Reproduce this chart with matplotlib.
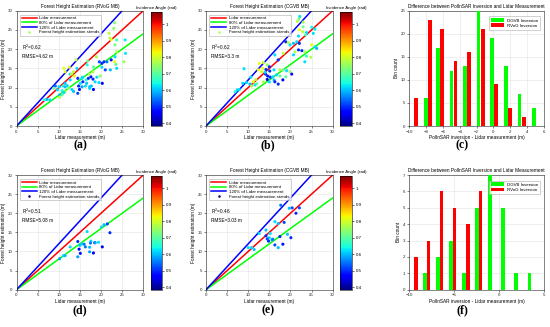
import matplotlib.pyplot as plt
import numpy as np
from matplotlib.lines import Line2D

plt.rcParams['font.family'] = ['Liberation Sans', 'DejaVu Sans']

# scatter data: lidar height, estimated height, incidence angle (rad)
a_lidar = [23.2,23.0,21.9,22.4,22.1,23.7,25.7,23.3,23.7,25.8,18.9,14.1,20.7,21.4,22.4,23.3,16.8,19.6,20.2,23.2,
           23.5,25.4,23.7,21.0,22.2,20.2,18.2,16.7,14.3,11.2,11.5,13.5,18.1,12.7,13.7,15.6,14.5,17.6,18.1,19.0,
           19.8,17.3,16.5,15.7,15.1,16.6,18.6,12.7,11.5,9.2,10.1,11.0,11.5,12.3,13.1,14.7,15.5,16.3,17.3,20.3,
           17.3,18.2,14.9,9.7,10.8,11.5,11.2,10.2,10.8,14.5,8.8,7.9,7.2,10.2,6.6,12.5,13.0,15.5,17.0,19.5,17.7,12.0,13.5]
a_est = [26.9,25.4,24.1,22.5,22.9,22.4,22.4,21.1,19.3,18.9,18.0,17.2,16.7,16.7,17.2,18.0,16.9,16.7,16.3,16.7,
         16.0,16.7,15.0,14.6,14.6,15.3,15.4,15.9,15.0,15.0,14.1,14.1,14.1,13.5,13.0,12.7,12.4,12.8,12.2,12.7,
         13.0,13.5,12.0,11.5,11.1,11.1,11.5,12.0,11.1,10.4,10.2,10.4,10.2,9.8,9.5,10.4,10.2,10.4,10.2,11.1,
         9.8,9.5,9.5,9.4,9.2,8.9,8.7,8.1,8.1,8.5,9.8,6.8,6.9,7.5,6.8,15.3,13.5,12.4,12.4,11.3,10.4,10.5,9.0]
a_ang = [0.73,0.75,0.78,0.82,0.78,0.68,0.63,0.72,0.77,0.63,0.77,0.78,0.5,0.55,0.48,0.62,0.72,0.52,0.5,0.82,
         0.7,0.75,0.62,0.52,0.6,0.62,0.7,0.65,0.62,0.82,0.8,0.77,0.77,0.62,0.82,0.62,0.5,0.48,0.5,0.62,
         0.75,0.77,0.65,0.5,0.62,0.6,0.62,0.62,0.6,0.55,0.62,0.65,0.6,0.75,0.62,0.5,0.58,0.62,0.6,0.46,
         0.62,0.47,0.48,0.62,0.65,0.77,0.62,0.6,0.7,0.52,0.72,0.62,0.6,0.77,0.65,0.82,0.78,0.62,0.5,0.62,0.6,0.62,0.6]

b_lidar = [22.2,22.0,21.6,23.0,23.0,25.0,25.8,22.1,22.9,23.8,21.9,23.6,25.4,18.9,19.5,21.5,20.7,19.9,22.1,25.8,
           26.2,25.0,21.9,22.7,21.1,23.4,16.3,18.3,20.7,23.8,24.8,17.1,23.4,12.6,13.6,14.5,13.4,15.0,14.2,9.0,
           12.4,13.2,16.1,15.1,17.5,18.3,19.1,19.9,14.1,14.6,15.2,15.8,16.7,17.5,20.3,18.9,14.5,16.1,13.6,15.0,
           10.6,11.8,11.2,9.6,10.4,11.6,8.7,10.8,16.3,17.1,18.2,7.4,6.9,7.9,12.0,14.0]
b_est = [28.5,27.8,27.2,27.0,25.8,25.7,25.2,25.0,24.5,24.3,23.4,23.7,24.1,21.9,21.7,21.9,21.5,21.1,21.5,20.6,
         20.2,21.1,19.8,19.6,19.3,19.3,18.5,18.9,18.5,18.2,17.9,17.2,16.7,16.3,16.5,15.9,15.0,15.4,14.7,14.9,
         14.6,14.1,14.6,14.3,14.6,14.6,14.4,14.1,13.5,13.0,12.7,12.8,13.3,13.0,13.5,12.8,12.1,12.0,11.5,11.5,
         12.7,12.1,11.5,11.3,10.9,10.7,11.1,10.4,11.5,10.9,12.0,9.4,8.9,9.5,11.0,14.0]
b_ang = [0.62,0.72,0.78,0.76,0.72,0.65,0.63,0.82,0.78,0.62,0.62,0.68,0.62,0.5,0.78,0.62,0.6,0.62,0.5,0.62,
         0.6,0.82,0.5,0.5,0.77,0.77,0.62,0.78,0.62,0.66,0.78,0.5,0.62,0.82,0.78,0.75,0.82,0.5,0.5,0.62,
         0.82,0.82,0.62,0.5,0.77,0.72,0.62,0.75,0.5,0.48,0.5,0.62,0.62,0.7,0.48,0.7,0.45,0.6,0.78,0.62,
         0.62,0.77,0.82,0.62,0.6,0.62,0.62,0.77,0.5,0.5,0.45,0.62,0.65,0.62,0.7,0.62]

d_lidar = [20.1,20.7,21.5,22.1,16.7,14.5,17.6,17.5,18.5,19.4,20.3,14.8,16.3,17.3,17.3,18.2,15.1,14.5,15.0,15.5,
           16.0,12.7,11.1,11.5,10.2,18.6]
d_est = [16.4,17.0,17.2,14.9,15.2,12.6,12.7,12.2,12.3,12.4,11.2,10.6,11.2,11.1,9.9,9.6,9.5,8.6,11.6,12.0,
         11.9,11.2,8.9,8.9,8.1,12.3]
d_ang = [0.62,0.6,0.52,0.5,0.62,0.5,0.62,0.55,0.5,0.62,0.47,0.46,0.55,0.6,0.58,0.47,0.48,0.58,0.6,0.62,
         0.55,0.62,0.62,0.6,0.58,0.58]

e_lidar = [17.7,19.7,20.4,22.1,21.3,16.3,17.1,18.5,12.6,14.2,15.2,14.2,17.5,15.0,14.5,14.8,15.6,19.3,20.1,16.3,
           17.1,18.2,10.0,10.8,11.4,15.8]
e_est = [22.1,21.3,21.4,21.4,20.0,17.8,17.3,17.6,14.7,15.6,14.7,14.1,13.9,13.6,13.3,12.7,13.0,14.5,13.6,11.7,
         11.0,11.9,11.0,11.0,10.5,13.2]
e_ang = [0.55,0.6,0.52,0.52,0.5,0.62,0.6,0.52,0.62,0.6,0.62,0.5,0.5,0.62,0.52,0.5,0.6,0.6,0.5,0.52,
         0.6,0.48,0.62,0.62,0.6,0.55]

# histogram data
c_centers = [-9.47,-7.78,-6.35,-4.75,-3.15,-1.52,0.07,1.75,3.35,5.03]
c_dgvb = [0,6,17,12,13,25,19,13,7,4]
c_rvog = [6,23,21,14,16,21,9,4,2,0]
f_centers = [-9.46,-8.05,-6.6,-5.16,-3.7,-2.26,-0.78,0.66,2.1,3.6]
f_dgvb = [0,1,2,3,1,5,7,5,1,1]
f_rvog = [2,3,6,5,4,6,0,0,0,0]

W, H = 550, 327
fig = plt.figure(figsize=(5.5, 3.27), dpi=100)

def rect(l, t, r, b):
    return [l / W, 1 - b / H, (r - l) / W, (b - t) / H]

FS = 3.2
TFS = 3.4
VMIN, VMAX = 0.384, 1.075

def style(ax):
    ax.grid(True, color='#e3e3e3', lw=0.4)
    ax.set_axisbelow(True)
    ax.tick_params(labelsize=FS, length=1.5, width=0.4, pad=1.2, colors='#262626')
    for s in ax.spines.values():
        s.set_linewidth(0.4)
        s.set_color('#262626')

def scatter_panel(box, cbox, x, y, ang, title, r2, rmse, mk_color):
    ax = fig.add_axes(rect(*box))
    line = np.array([0, 30])
    ax.plot(line, line, color='red', lw=1.1, label='Lidar measurement')
    ax.plot(line, 0.8 * line, color='#00ff00', lw=1.1, label='80% of Lidar measurement')
    ax.plot([0, 25], [0, 30], color='blue', lw=1.1, label='120% of Lidar measurement')
    sc = ax.scatter(x, y, c=ang, cmap='jet', vmin=VMIN, vmax=VMAX, s=5, marker='o', linewidths=0, zorder=3)
    ax.set_xlim(0, 30)
    ax.set_ylim(0, 30)
    ax.set_xticks(range(0, 31, 5))
    ax.set_yticks(range(0, 31, 5))
    style(ax)
    ax.set_title(title, fontsize=TFS, pad=2)
    ax.set_xlabel('Lidar measurement (m)', fontsize=TFS, labelpad=1.2)
    ax.set_ylabel('Forest height estimation (m)', fontsize=TFS, labelpad=1.2)
    handles, labels = ax.get_legend_handles_labels()
    handles.append(Line2D([], [], ls='none', marker='o', ms=1.8, mec='none', mfc=mk_color))
    labels.append('Forest height estimation stands')
    ax.legend(handles, labels, loc='upper left', fontsize=FS, frameon=True, fancybox=False,
              edgecolor='#999999', handlelength=3.4, borderpad=0.35, labelspacing=0.12,
              handletextpad=0.6, bbox_to_anchor=(0.01, 0.985)).get_frame().set_linewidth(0.4)
    ax.text(1.2, 19.8, 'R$^2$=' + r2, fontsize=TFS)
    ax.text(1.2, 17.8, 'RMSE=' + rmse + ' m', fontsize=TFS)
    cax = fig.add_axes(rect(*cbox))
    cb = fig.colorbar(sc, cax=cax, ticks=[0.4, 0.5, 0.6, 0.7, 0.8, 0.9, 1.0])
    cb.ax.set_yticklabels(['0.4', '0.5', '0.6', '0.7', '0.8', '0.9', '1'])
    cb.ax.tick_params(labelsize=FS, length=1.5, width=0.4, pad=1.2)
    cb.outline.set_linewidth(0.4)
    cax.set_title('Incidence Angle (rad)', fontsize=FS, pad=2)

def hist_panel(box, centers, g, r, ylim, xticks, off, w):
    ax = fig.add_axes(rect(*box))
    c = np.array(centers)
    ax.bar(c - off, g, width=w, color='#00ff00', label='DGVB Inversion', zorder=3)
    ax.bar(c + off, r, width=w, color='red', label='RVoG Inversion', zorder=3)
    ax.set_xlim(xticks[0], xticks[-1])
    ax.set_ylim(0, ylim)
    ax.set_xticks(xticks)
    style(ax)
    ax.set_title('Difference between PolInSAR Inversion and Lidar Measurement', fontsize=TFS, pad=2)
    ax.set_xlabel('PolInSAR inversion - Lidar measurement (m)', fontsize=TFS, labelpad=1.2)
    ax.set_ylabel('Bin count', fontsize=TFS, labelpad=1.2)
    ax.legend(loc='upper right', fontsize=FS, fancybox=False, edgecolor='#999999', handlelength=3.0,
              handleheight=0.9, borderpad=0.4, labelspacing=0.2, handletextpad=0.6,
              bbox_to_anchor=(0.985, 0.97)).get_frame().set_linewidth(0.4)

scatter_panel((16.5, 10.7, 143.3, 126), (150.7, 11.7, 162.3, 126), a_lidar, a_est, a_ang,
              'Forest Height Estimation (RVoG MB)', '0.62', '4.62', '#a8ff50')
scatter_panel((206, 10.7, 332.7, 126), (340, 11.7, 351.7, 126), b_lidar, b_est, b_ang,
              'Forest Height Estimation (CGVB MB)', '0.62', '3.3', '#a8ff50')
hist_panel((409.3, 10.7, 544, 126), c_centers, c_dgvb, c_rvog, 25, list(range(-10, 7, 2)), 0.25, 0.44)

scatter_panel((16.5, 175, 143.3, 289.7), (150.7, 176, 162.3, 289.7), d_lidar, d_est, d_ang,
              'Forest Height Estimation (RVoG MB)', '0.51', '5.08', '#00007f')
scatter_panel((206, 175, 332.7, 289.7), (340, 176, 351.7, 289.7), e_lidar, e_est, e_ang,
              'Forest Height Estimation (CGVB MB)', '0.46', '3.03', '#00007f')
hist_panel((409.3, 175, 544, 289.7), f_centers, f_dgvb, f_rvog, 7, [-10, -5, 0, 5], 0.2, 0.41)

for lab, xx, yy in [('(a)', 80, 145), ('(b)', 268, 145), ('(c)', 462, 145),
                    ('(d)', 80, 310.5), ('(e)', 268, 310.5), ('(f)', 462, 310.5)]:
    fig.text(xx / W, 1 - yy / H, lab, fontsize=8.5, fontweight='bold', family='Liberation Serif',
             ha='center', va='center')

fig.savefig('out.png', dpi=100)
